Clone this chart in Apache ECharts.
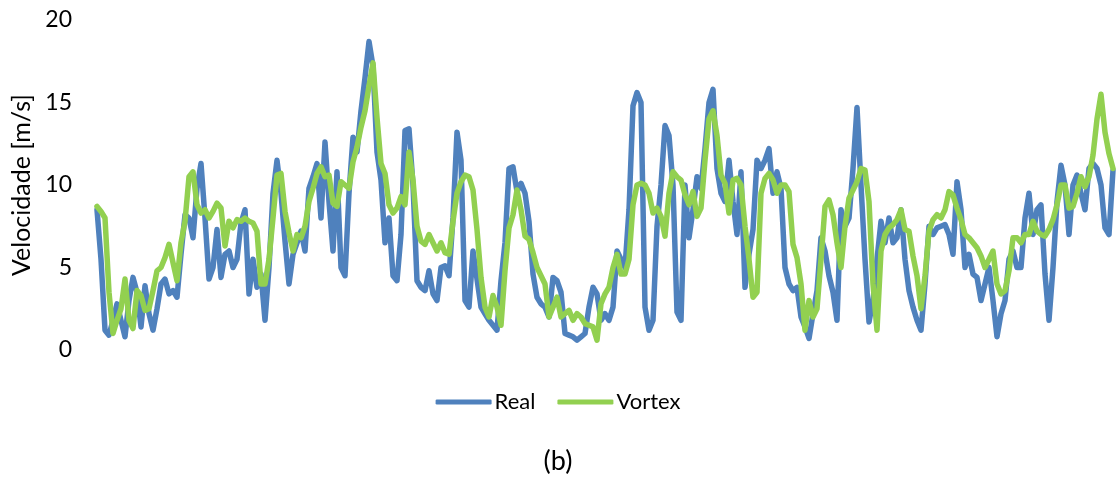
<!DOCTYPE html>
<html>
<head>
<meta charset="utf-8">
<script src="https://cdn.jsdelivr.net/npm/echarts@6/dist/echarts.min.js"></script>
<style>
  html, body { margin: 0; padding: 0; background: #ffffff; }
  #chart { width: 1116px; height: 480px; }
</style>
</head>
<body>
<div id="chart"></div>
<script>
// Measured wind speed vs. Vortex model, one sample per step
const real = [
  8.5, 5.5, 1.2, 0.9, 1.8, 2.8, 1.8, 0.8, 3.0, 4.4,
  3.5, 1.4, 3.9, 2.2, 1.2, 2.5, 4.0, 4.3, 3.4, 3.6,
  3.2, 5.8, 8.2, 8.0, 6.8, 9.8, 11.3, 8.0, 4.3, 5.0,
  7.3, 4.4, 5.8, 6.0, 5.0, 5.5, 7.7, 8.5, 3.4, 5.5,
  3.8, 4.6, 1.8, 5.0, 9.5, 11.5, 9.5, 6.6, 4.0, 5.8,
  6.5, 7.2, 6.0, 9.8, 10.5, 11.3, 8.0, 12.6, 9.0, 6.0,
  10.8, 5.0, 4.5, 9.5, 12.9, 12.0, 14.5, 16.5, 18.7, 17.2,
  12.0, 10.3, 6.5, 8.0, 4.5, 4.2, 7.0, 13.3, 13.4, 10.0,
  4.2, 3.8, 3.6, 4.8, 3.4, 3.0, 5.0, 5.1, 4.5, 8.0,
  13.2, 11.5, 3.0, 2.6, 6.0, 4.3, 2.6, 2.2, 1.8, 1.5,
  1.2, 4.2, 6.5, 11.0, 11.1, 9.6, 10.1, 9.5, 7.8, 4.6,
  3.2, 2.8, 2.6, 2.0, 4.4, 4.2, 3.5, 1.0, 0.9, 0.8,
  0.6, 0.8, 1.0, 2.6, 3.8, 3.4, 1.8, 2.2, 1.8, 2.6,
  6.0, 5.5, 5.0, 8.5, 14.8, 15.6, 15.0, 2.6, 1.2, 1.8,
  7.5, 10.0, 13.6, 13.0, 10.0, 2.3, 1.8, 10.0, 6.8, 8.5,
  10.5, 9.8, 12.2, 15.0, 15.8, 11.0, 9.5, 9.0, 11.5, 9.0,
  7.0, 10.8, 3.8, 5.8, 7.3, 11.5, 11.0, 11.5, 12.2, 9.5,
  10.8, 9.8, 5.0, 4.0, 3.6, 3.8, 2.0, 1.4, 0.7, 2.2,
  3.6, 6.8, 6.0, 4.5, 3.5, 1.8, 8.5, 7.5, 8.0, 11.0,
  14.7, 10.0, 5.5, 1.7, 3.0, 5.5, 7.8, 6.5, 8.0, 6.5,
  6.8, 8.5, 5.5, 3.6, 2.6, 1.8, 1.2, 4.0, 7.5, 7.0,
  7.4, 7.5, 7.6, 7.0, 5.8, 10.2, 8.5, 5.0, 5.8, 4.6,
  4.4, 3.0, 4.0, 5.0, 3.0, 0.8, 2.2, 3.0, 5.5, 6.0,
  5.0, 5.0, 8.0, 9.5, 7.0, 8.5, 8.8, 4.6, 1.8, 5.0,
  9.0, 11.2, 10.0, 7.0, 10.0, 10.6, 9.5, 8.5, 11.0, 11.3,
  11.0, 10.0, 7.4, 7.0, 10.9
];

const vortex = [
  8.7, 8.4, 8.0, 3.5, 1.0, 1.8, 2.5, 4.3, 1.8, 1.3,
  3.6, 3.3, 2.4, 2.5, 3.6, 4.8, 5.0, 5.6, 6.4, 5.3,
  4.2, 6.5, 7.8, 10.5, 10.8, 8.8, 8.3, 8.5, 8.0, 8.4,
  8.9, 8.6, 6.3, 7.8, 7.4, 7.9, 7.8, 8.0, 7.8, 7.7,
  7.2, 4.0, 4.0, 5.5, 8.0, 10.6, 10.7, 8.4, 7.1, 6.0,
  7.0, 6.8, 7.5, 9.0, 9.8, 10.7, 11.1, 10.5, 10.6, 8.9,
  8.7, 10.2, 10.0, 9.8, 11.4, 12.3, 13.5, 14.5, 16.0, 17.4,
  14.1, 11.3, 10.7, 8.8, 8.3, 8.6, 9.3, 8.8, 12.0, 10.3,
  7.5, 6.6, 6.4, 7.0, 6.5, 6.0, 6.5, 5.9, 5.8, 7.8,
  9.5, 10.2, 10.6, 10.5, 9.7, 7.3, 4.4, 2.6, 2.0, 3.3,
  2.6, 1.5, 4.8, 7.4, 8.2, 9.7, 8.5, 6.9, 6.7, 5.9,
  5.0, 4.5, 4.0, 2.0, 2.6, 3.2, 2.0, 2.2, 2.4, 1.8,
  2.2, 2.0, 1.6, 1.5, 1.4, 0.6, 2.8, 3.4, 3.8, 5.0,
  5.8, 4.6, 4.6, 5.5, 8.8, 10.0, 10.1, 10.0, 9.5, 8.3,
  8.6, 8.1, 6.9, 9.5, 10.8, 10.5, 10.3, 9.4, 8.8, 9.6,
  8.1, 8.6, 11.5, 14.0, 14.5, 13.0, 10.6, 10.1, 8.3, 10.3,
  10.4, 10.0, 7.5, 5.5, 3.2, 3.5, 9.5, 10.4, 10.7, 10.3,
  9.5, 10.0, 10.0, 9.6, 6.4, 5.6, 4.0, 1.2, 3.0, 2.0,
  2.5, 5.5, 8.7, 9.1, 8.2, 6.5, 5.0, 7.5, 9.2, 9.7,
  10.2, 11.0, 10.9, 9.0, 4.0, 1.2, 6.0, 7.0, 7.4, 7.6,
  7.9, 8.5, 7.3, 7.2, 5.7, 4.5, 2.5, 4.5, 7.2, 7.9,
  8.2, 8.0, 8.5, 9.6, 9.4, 8.6, 7.9, 7.0, 6.8, 6.5,
  6.2, 5.7, 5.0, 5.5, 6.0, 4.0, 3.4, 3.6, 4.8, 6.8,
  6.8, 6.5, 7.0, 7.0, 7.8, 7.2, 7.0, 6.9, 7.3, 7.9,
  8.8, 10.0, 10.0, 8.6, 8.7, 9.5, 10.5, 9.9, 10.5, 11.8,
  14.0, 15.5, 13.2, 11.9, 11.0
];

const steps = real.map((_, i) => i + 1);
const yTicks = { min: 0, max: 20, interval: 5 };

const FONT = 'Lato, "Liberation Sans", sans-serif';

const chart = echarts.init(document.getElementById('chart'), null, { renderer: 'canvas' });

chart.setOption({
  animation: false,
  backgroundColor: '#ffffff',
  title: {
    text: '(b)',
    left: 'center',
    top: 446,
    padding: 0,
    textStyle: { fontFamily: FONT, fontSize: 27, fontWeight: 'normal', color: '#000000', lineHeight: 30 }
  },
  legend: {
    bottom: 62,
    left: 'center',
    icon: 'roundRect',
    itemWidth: 56,
    itemHeight: 5,
    itemGap: 22,
    textStyle: { fontFamily: FONT, fontSize: 22, color: '#000000', padding: [0, 0, 0, -2] },
    data: ['Real', 'Vortex']
  },
  grid: { left: 97, right: 3, top: 20, bottom: 130, containLabel: false },
  xAxis: {
    type: 'category',
    data: steps,
    boundaryGap: false,
    show: false
  },
  yAxis: {
    type: 'value',
    min: yTicks.min,
    max: yTicks.max,
    interval: yTicks.interval,
    name: 'Velocidade [m/s]',
    nameLocation: 'middle',
    nameGap: 63,
    nameTextStyle: { fontFamily: FONT, fontSize: 25, color: '#000000' },
    axisLine: { show: false },
    axisTick: { show: false },
    splitLine: { show: false },
    axisLabel: { fontFamily: FONT, fontSize: 23, color: '#000000', margin: 25 }
  },
  series: [
    {
      name: 'Real',
      type: 'line',
      data: real,
      symbol: 'none',
      color: '#4f81bd',
      lineStyle: { width: 5.5, color: '#4f81bd', cap: 'round', join: 'round' }
    },
    {
      name: 'Vortex',
      type: 'line',
      data: vortex,
      symbol: 'none',
      color: '#92d050',
      lineStyle: { width: 5.5, color: '#92d050', cap: 'round', join: 'round' }
    }
  ]
});
</script>
</body>
</html>
